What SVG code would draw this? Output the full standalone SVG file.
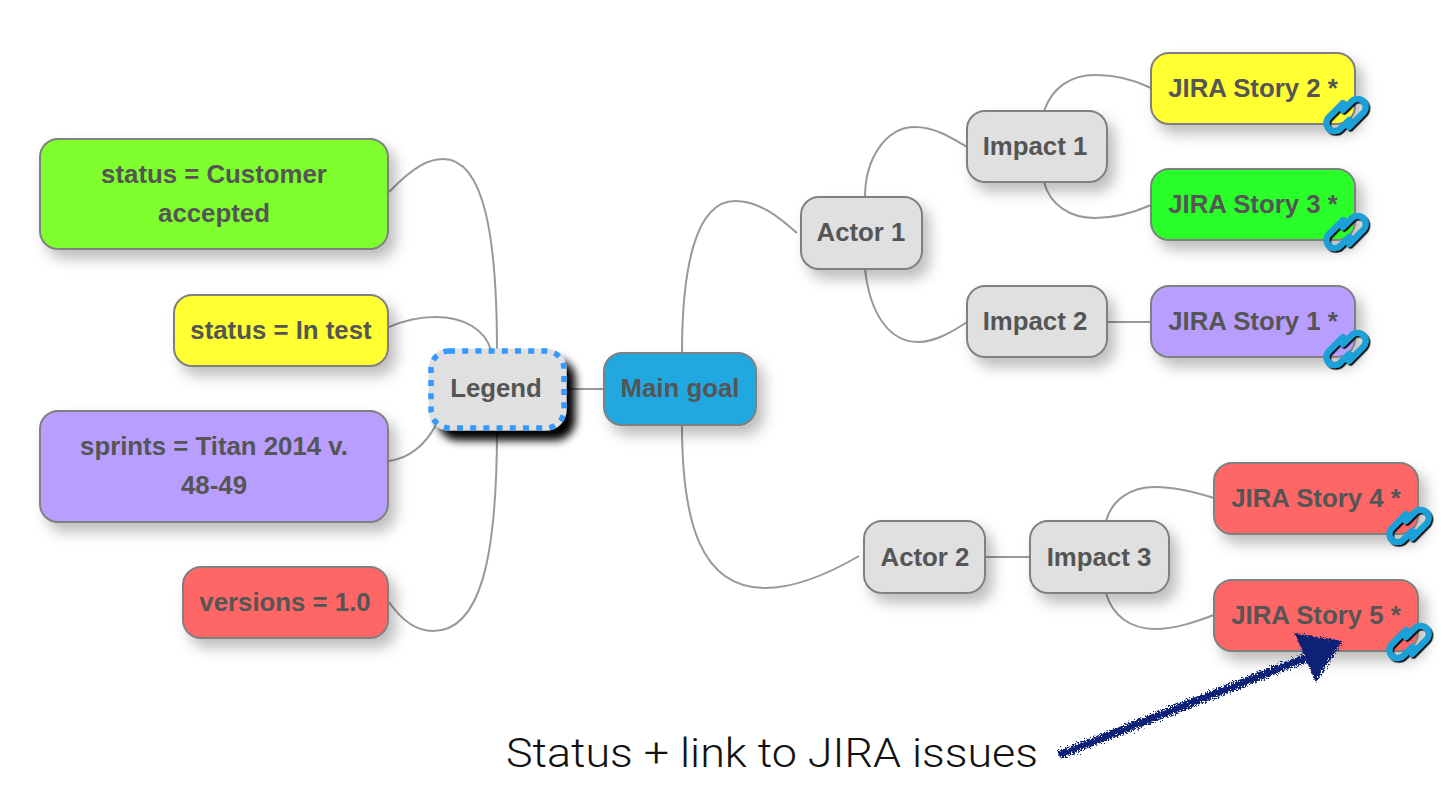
<svg xmlns="http://www.w3.org/2000/svg" width="1454" height="798" viewBox="0 0 1454 798">
<style>
.n{stroke:#808080;stroke-width:2;filter:url(#sh)}
.t{font-family:"Liberation Sans",Arial,sans-serif;font-weight:700;font-size:25.8px;fill:#555;text-anchor:middle}
.c{fill:none;stroke:#999;stroke-width:2}
.gray{fill:#e0e0e0}.red{fill:#ff6666}.yel{fill:#ffff33}.pur{fill:#b89eff}
</style>
<defs>
<filter id="sh" x="-20%" y="-30%" width="150%" height="180%"><feDropShadow dx="7" dy="9" stdDeviation="7" flood-color="#000" flood-opacity=".26"/></filter>
<filter id="hard" x="-20%" y="-20%" width="150%" height="160%"><feDropShadow dx="9" dy="10" stdDeviation="4" flood-color="#000" flood-opacity="1"/></filter>
<filter id="ic" x="-30%" y="-30%" width="170%" height="170%"><feDropShadow dx="1.5" dy="1.5" stdDeviation=".7" flood-color="#000" flood-opacity="1"/></filter>
<filter id="rough" x="-5%" y="-10%" width="110%" height="120%"><feTurbulence type="fractalNoise" baseFrequency=".7" numOctaves="2" seed="4"/><feDisplacementMap in="SourceGraphic" scale="8"/></filter>
<g id="link" filter="url(#ic)"><g fill="none" stroke="#1fa0d8" stroke-width="5" stroke-linecap="round" transform="rotate(-45) scale(1.25)">
<path d="M5,-8.5H-11a6.5,6.5 0 0 0 0,13H-1"/>
<path d="M-5,8.5H11a6.5,6.5 0 0 0 0,-13H1"/>
</g></g>
</defs>
<rect width="1454" height="798" fill="#fff"/>
<g id="connectors">
<path class="c" d="M389,192C415,165 430,159 443,159C485,159 497,240 497,351"/>
<path class="c" d="M389,327C410,318 425,317 435,317C465,317 485,330 491,350"/>
<path class="c" d="M389,461C410,458 425,445 436,425"/>
<path class="c" d="M389,602C400,618 415,631 433,631C480,631 497,560 497,429"/>
<path class="c" d="M564,389H604"/>
<path class="c" d="M682,353C682,270 695,201 735,201C760,201 780,218 797,233"/>
<path class="c" d="M682,425C682,520 700,588 765,588C800,588 835,570 859,556"/>
<path class="c" d="M865,197C865,160 885,127 915,127C935,127 952,138 967,147"/>
<path class="c" d="M865,269C870,315 890,342 918,342C935,342 952,332 967,322"/>
<path class="c" d="M1044,111C1052,88 1070,75 1095,75C1115,75 1135,80 1151,88"/>
<path class="c" d="M1044,182C1050,205 1070,218 1095,218C1115,218 1135,212 1151,205"/>
<path class="c" d="M1107,322H1151"/>
<path class="c" d="M985,557H1030"/>
<path class="c" d="M1106,521C1112,500 1130,487 1155,487C1175,487 1195,492 1214,498"/>
<path class="c" d="M1106,593C1112,615 1130,629 1155,629C1175,629 1195,622 1214,615"/>
</g>
<g id="legend-customer"><rect class="n" x="40" y="139" width="348" height="110" rx="18" fill="#7fff2f"/><text class="t" x="214" y="183">status = Customer</text><text class="t" x="214" y="222">accepted</text></g>
<g id="legend-test"><rect class="n yel" x="174" y="295" width="214" height="71" rx="18"/><text class="t" x="281" y="339">status = In test</text></g>
<g id="legend-sprints"><rect class="n pur" x="40" y="411" width="348" height="111" rx="18"/><text class="t" x="214" y="455">sprints = Titan 2014 v.</text><text class="t" x="214" y="494">48-49</text></g>
<g id="legend-versions"><rect class="n red" x="183" y="567" width="205" height="71" rx="18"/><text class="t" x="285" y="611">versions = 1.0</text></g>
<g id="legend"><rect x="431" y="351" width="133" height="77" rx="18" fill="#e0e0e0" stroke="#e0e0e0" stroke-width="5" filter="url(#hard)"/><rect x="431" y="351" width="133" height="77" rx="18" fill="none" stroke="#3399ff" stroke-width="5.5" stroke-dasharray="6 7.2"/><text class="t" x="496" y="397">Legend</text></g>
<g id="main"><rect class="n" x="604" y="353" width="152" height="72" rx="18" fill="#21a8e0"/><text class="t" x="680" y="397">Main goal</text></g>
<g id="actor1"><rect class="n gray" x="801" y="197" width="121" height="72" rx="18"/><text class="t" x="861" y="241">Actor 1</text></g>
<g id="impact1"><rect class="n gray" x="967" y="111" width="140" height="71" rx="18"/><text class="t" x="1035" y="155">Impact 1</text></g>
<g id="impact2"><rect class="n gray" x="967" y="286" width="140" height="71" rx="18"/><text class="t" x="1035" y="330">Impact 2</text></g>
<g id="story2"><rect class="n yel" x="1151" y="53" width="204" height="71" rx="18"/><text class="t" x="1253" y="97">JIRA Story 2 *</text><use href="#link" x="1346" y="115"/></g>
<g id="story3"><rect class="n" x="1151" y="169" width="204" height="71" rx="18" fill="#29ff29"/><text class="t" x="1253" y="213">JIRA Story 3 *</text><use href="#link" x="1346" y="232"/></g>
<g id="story1"><rect class="n pur" x="1151" y="286" width="204" height="71" rx="18"/><text class="t" x="1253" y="330">JIRA Story 1 *</text><use href="#link" x="1346" y="349"/></g>
<g id="actor2"><rect class="n gray" x="864" y="521" width="121" height="72" rx="18"/><text class="t" x="925" y="566">Actor 2</text></g>
<g id="impact3"><rect class="n gray" x="1030" y="521" width="139" height="72" rx="18"/><text class="t" x="1099" y="566">Impact 3</text></g>
<g id="story4"><rect class="n red" x="1214" y="463" width="204" height="71" rx="18"/><text class="t" x="1316" y="507">JIRA Story 4 *</text><use href="#link" x="1409" y="526"/></g>
<g id="story5"><rect class="n red" x="1214" y="580" width="204" height="71" rx="18"/><text class="t" x="1316" y="624">JIRA Story 5 *</text><use href="#link" x="1409" y="642"/></g>
<g id="annotation">
<text x="506" y="767" font-family="Roboto,'Liberation Sans',sans-serif" font-weight="300" font-size="41" fill="#111" textLength="532" lengthAdjust="spacingAndGlyphs">Status + link to JIRA issues</text>
<g filter="url(#rough)" fill="#0c2277" stroke="#0c2277"><path d="M1059,755L1308,657" stroke-width="8" fill="none"/><path d="M1297,635L1340,642L1316,679Z" stroke-width="3"/></g>
</g>
</svg>
